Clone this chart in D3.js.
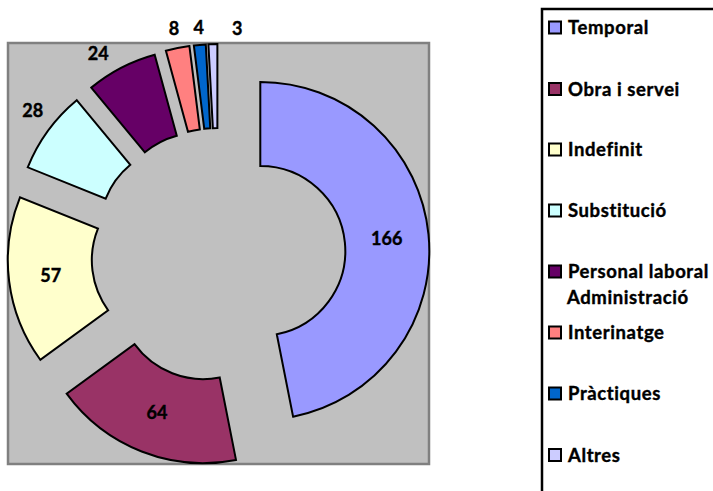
<!DOCTYPE html>
<html><head><meta charset="utf-8">
<script src="https://cdn.jsdelivr.net/npm/d3@7"></script>
<style>body{margin:0;background:#fff}svg{display:block}text{font-family:Lato,"Open Sans",sans-serif;font-weight:bold;font-variant-ligatures:none}</style>
</head><body>
<svg id="c" width="713" height="491"></svg>
<script>
const categories = ["Temporal","Obra i servei","Indefinit","Substitució","Personal laboral Administració","Interinatge","Pràctiques","Altres"];
const legendLines = [["Temporal"],["Obra i servei"],["Indefinit"],["Substitució"],["Personal laboral","Administració"],["Interinatge"],["Pràctiques"],["Altres"]];
const values = [166,64,57,28,24,8,4,3];
const colors = ["#9999FF","#993366","#FFFFCC","#CCFFFF","#660066","#FF8080","#0066CC","#CCCCFF"];

const FS = 18, LFS = 18.5;
const svg = d3.select("#c");
// plot area
svg.append("rect").attr("x",8).attr("y",43).attr("width",421).attr("height",421)
  .attr("fill","#C0C0C0").attr("stroke","#808080").attr("stroke-width",2.5);

const cx = 218.5, cy = 255, R = 169, r = 85, explode = 42;
const pie = d3.pie().sort(null).value(d=>d);
const arcs = pie(values);
const arc = d3.arc().innerRadius(r).outerRadius(R);
const g = svg.append("g").attr("transform",`translate(${cx},${cy})`);
// small layout nudges for outside labels (Excel collision placement)
const nudge = {3:[4,-6],4:[-12,7],5:[1,4],6:[1,7],7:[25,8]};
arcs.forEach((a,i)=>{
  const m = (a.startAngle+a.endAngle)/2;
  const dx = explode*Math.sin(m), dy = -explode*Math.cos(m);
  g.append("path").attr("d",arc(a)).attr("transform",`translate(${dx},${dy})`)
   .attr("fill",colors[i]).attr("stroke","#000").attr("stroke-width",2).attr("stroke-linejoin","miter");
  const inside = values[i] >= 50;
  const lr = inside ? (R+r)/2 : R+24;
  let lx = dx + lr*Math.sin(m), ly = dy - lr*Math.cos(m);
  if (nudge[i]) { lx += nudge[i][0]; ly += nudge[i][1]; }
  g.append("text").attr("x",lx).attr("y",ly+0.36*FS).attr("text-anchor","middle")
   .attr("font-size",FS).attr("fill","#000").attr("stroke","#000").attr("stroke-width",0.4).text(values[i]);
});

// legend
svg.append("rect").attr("x",542).attr("y",9).attr("width",220).attr("height",520)
  .attr("fill","#fff").attr("stroke","#000").attr("stroke-width",2.5);
const legY = [27.5,89,149.5,210.5,271.5,332.5,393.5,455];
legendLines.forEach((lines,i)=>{
  svg.append("rect").attr("x",549).attr("y",legY[i]-6).attr("width",12).attr("height",12)
    .attr("fill",colors[i]).attr("stroke","#000").attr("stroke-width",2);
  lines.forEach((t,j)=>{
    svg.append("text").attr("x",j===0?568:567).attr("y",legY[i]+26*j+0.36*LFS)
      .attr("font-size",LFS).attr("letter-spacing",0.6).attr("fill","#000")
      .attr("stroke","#000").attr("stroke-width",0.4).text(t);
  });
});
</script>
</body></html>
